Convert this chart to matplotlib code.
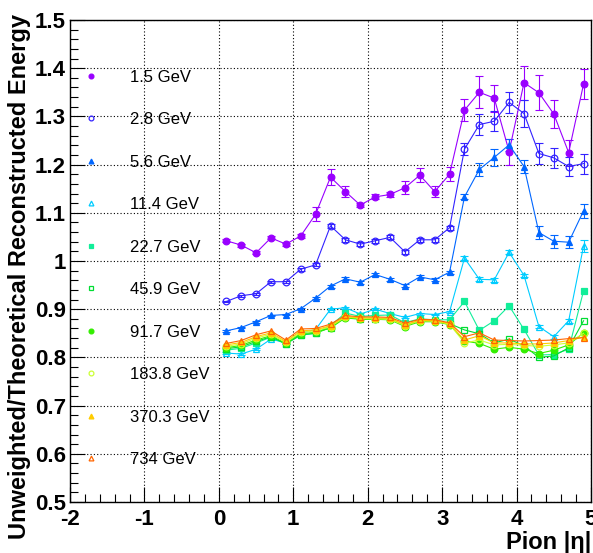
import matplotlib
matplotlib.use('Agg')
import matplotlib.pyplot as plt
from matplotlib.ticker import MultipleLocator

plt.rcParams['font.family'] = ['Liberation Sans', 'DejaVu Sans']

# pion |eta| bin centres
eta = [0.1, 0.3, 0.5, 0.7, 0.9, 1.1, 1.3, 1.5, 1.7, 1.9, 2.1, 2.3, 2.5,
       2.7, 2.9, 3.1, 3.3, 3.5, 3.7, 3.9, 4.1, 4.3, 4.5, 4.7, 4.9]

labels = ['1.5 GeV', '2.8 GeV', '5.6 GeV', '11.4 GeV', '22.7 GeV',
          '45.9 GeV', '91.7 GeV', '183.8 GeV', '370.3 GeV', '734 GeV']

r_1p5 = [1.042, 1.033, 1.017, 1.048, 1.035, 1.052, 1.097, 1.174, 1.144, 1.116, 1.133, 1.138, 1.152,
         1.178, 1.144, 1.180, 1.313, 1.350, 1.338, 1.227, 1.370, 1.349, 1.305, 1.225, 1.367]
r_2p8 = [0.916, 0.928, 0.932, 0.957, 0.957, 0.983, 0.992, 1.073, 1.044, 1.035, 1.042, 1.049, 1.019,
         1.044, 1.044, 1.069, 1.232, 1.283, 1.290, 1.329, 1.306, 1.223, 1.214, 1.196, 1.202]
r_5p6 = [0.855, 0.862, 0.874, 0.887, 0.889, 0.901, 0.923, 0.948, 0.963, 0.956, 0.972, 0.962, 0.949,
         0.967, 0.961, 0.977, 1.133, 1.190, 1.215, 1.241, 1.196, 1.059, 1.041, 1.039, 1.104]
r_11p4 = [0.809, 0.807, 0.817, 0.838, 0.830, 0.850, 0.858, 0.900, 0.903, 0.890, 0.900, 0.891, 0.883,
          0.891, 0.889, 0.895, 1.006, 0.962, 0.961, 1.018, 0.970, 0.864, 0.843, 0.876, 1.031]
r_22p7 = [0.815, 0.819, 0.830, 0.842, 0.828, 0.846, 0.850, 0.866, 0.892, 0.885, 0.887, 0.888, 0.872,
          0.880, 0.878, 0.878, 0.916, 0.856, 0.876, 0.907, 0.858, 0.805, 0.806, 0.817, 0.938]
r_45p9 = [0.818, 0.822, 0.833, 0.843, 0.828, 0.847, 0.850, 0.862, 0.884, 0.880, 0.880, 0.880, 0.866,
          0.876, 0.875, 0.870, 0.857, 0.849, 0.830, 0.838, 0.824, 0.800, 0.803, 0.820, 0.876]
r_91p7 = [0.820, 0.825, 0.836, 0.845, 0.829, 0.849, 0.852, 0.861, 0.882, 0.879, 0.879, 0.878, 0.864,
          0.874, 0.874, 0.868, 0.834, 0.829, 0.817, 0.821, 0.817, 0.808, 0.815, 0.826, 0.851]
r_183p8 = [0.823, 0.828, 0.840, 0.848, 0.831, 0.852, 0.855, 0.864, 0.884, 0.881, 0.880, 0.879, 0.866,
           0.876, 0.875, 0.869, 0.830, 0.836, 0.826, 0.827, 0.825, 0.823, 0.826, 0.830, 0.850]
r_370p3 = [0.826, 0.831, 0.843, 0.851, 0.833, 0.855, 0.857, 0.866, 0.885, 0.882, 0.882, 0.881, 0.868,
           0.877, 0.876, 0.870, 0.836, 0.845, 0.830, 0.830, 0.828, 0.828, 0.830, 0.835, 0.842]
r_734 = [0.829, 0.835, 0.847, 0.855, 0.836, 0.859, 0.860, 0.869, 0.887, 0.884, 0.884, 0.883, 0.871,
         0.879, 0.878, 0.872, 0.843, 0.851, 0.836, 0.835, 0.834, 0.835, 0.836, 0.839, 0.841]

# statistical errors (only visible for the low energies)
e_1p5 = [0.003, 0.003, 0.003, 0.003, 0.003, 0.004, 0.015, 0.016, 0.012, 0.005, 0.005, 0.005, 0.013,
         0.014, 0.012, 0.014, 0.023, 0.033, 0.028, 0.027, 0.035, 0.036, 0.030, 0.027, 0.031]
e_2p8 = [0.002, 0.002, 0.002, 0.002, 0.002, 0.003, 0.003, 0.004, 0.004, 0.004, 0.004, 0.004, 0.004,
         0.004, 0.004, 0.004, 0.013, 0.022, 0.021, 0.021, 0.027, 0.022, 0.021, 0.020, 0.021]
e_5p6 = [0.002, 0.002, 0.002, 0.002, 0.002, 0.002, 0.002, 0.003, 0.003, 0.003, 0.003, 0.003, 0.003,
         0.003, 0.003, 0.003, 0.005, 0.014, 0.017, 0.012, 0.014, 0.014, 0.013, 0.013, 0.015]
e_11p4 = [0.002, 0.002, 0.002, 0.002, 0.002, 0.002, 0.002, 0.002, 0.002, 0.002, 0.002, 0.002, 0.002,
          0.002, 0.002, 0.002, 0.004, 0.004, 0.004, 0.004, 0.004, 0.004, 0.004, 0.004, 0.012]

series = [r_1p5, r_2p8, r_5p6, r_11p4, r_22p7, r_45p9, r_91p7, r_183p8, r_370p3, r_734]
errors = [e_1p5, e_2p8, e_5p6, e_11p4, None, None, None, None, None, None]
colors = ['#9900ff', '#3322ff', '#0066ff', '#00ccff', '#11ee99',
          '#00dd33', '#33ee00', '#ccff33', '#ffcc00', '#ff6600']
markers = ['o', 'o', '^', '^', 's', 's', 'o', 'o', '^', '^']
filled = [True, False, True, False, True, False, True, False, True, False]

fig = plt.figure(figsize=(5.93, 5.53), dpi=100)
ax = fig.add_axes([70 / 593, 51 / 553, 521 / 593, 482 / 553])

handles = []
for y, err, c, m, f, lab in zip(series, errors, colors, markers, filled, labels):
    if err is not None:
        ax.errorbar(eta, y, yerr=err, fmt='none', ecolor=c, elinewidth=0.8,
                    capsize=2.6, capthick=0.8, zorder=2)
    line, = ax.plot(eta, y, color=c, lw=0.8, marker=m, markersize=4.8,
                    markerfacecolor=c if f else 'none', markeredgecolor=c,
                    markeredgewidth=0.9, label=lab, zorder=3)
    handles.append(line)

ax.set_xlim(-2, 5)
ax.set_ylim(0.5, 1.5)
ax.xaxis.set_minor_locator(MultipleLocator(0.2))
ax.yaxis.set_minor_locator(MultipleLocator(0.02))
ax.set_xticks([-2, -1, 0, 1, 2, 3, 4, 5])
ax.set_xticklabels(['-2', '-1', '0', '1', '2', '3', '4', '5'])
ax.set_yticks([0.5, 0.6, 0.7, 0.8, 0.9, 1.0, 1.1, 1.2, 1.3, 1.4, 1.5])
ax.set_yticklabels(['0.5', '0.6', '0.7', '0.8', '0.9', '1', '1.1', '1.2', '1.3', '1.4', '1.5'])

ax.tick_params(which='both', direction='in', top=False, right=False, width=0.8)
ax.tick_params(axis='x', which='major', length=11, pad=5, labelsize=16)
ax.tick_params(axis='x', which='minor', length=6)
ax.tick_params(axis='y', which='major', length=11, pad=3, labelsize=16)
ax.tick_params(axis='y', which='minor', length=5.5)
for lab in ax.get_xticklabels() + ax.get_yticklabels():
    lab.set_fontweight('bold')

ax.grid(True, which='major', color='black', linestyle=(0, (1, 2)), linewidth=0.8)
ax.set_axisbelow(True)
for sp in ax.spines.values():
    sp.set_linewidth(1.0)

ax.set_ylabel('Unweighted/Theoretical Reconstructed Energy', fontsize=17,
              fontweight='bold', loc='top')
ax.yaxis.set_label_coords(-0.075, 1.012)
ax.set_xlabel('Pion |\u03b7|', fontsize=17, fontweight='bold', loc='right', labelpad=1)

leg = ax.legend(handles=handles, loc='upper left', bbox_to_anchor=(0.025, 0.897),
                frameon=False, fontsize=12, borderpad=0, borderaxespad=0,
                handlelength=1.0, handletextpad=1.8, labelspacing=1.65,
                markerscale=0.72)
for h in leg.legend_handles:
    h.set_linestyle('none')

fig.savefig('out.png', dpi=100)
